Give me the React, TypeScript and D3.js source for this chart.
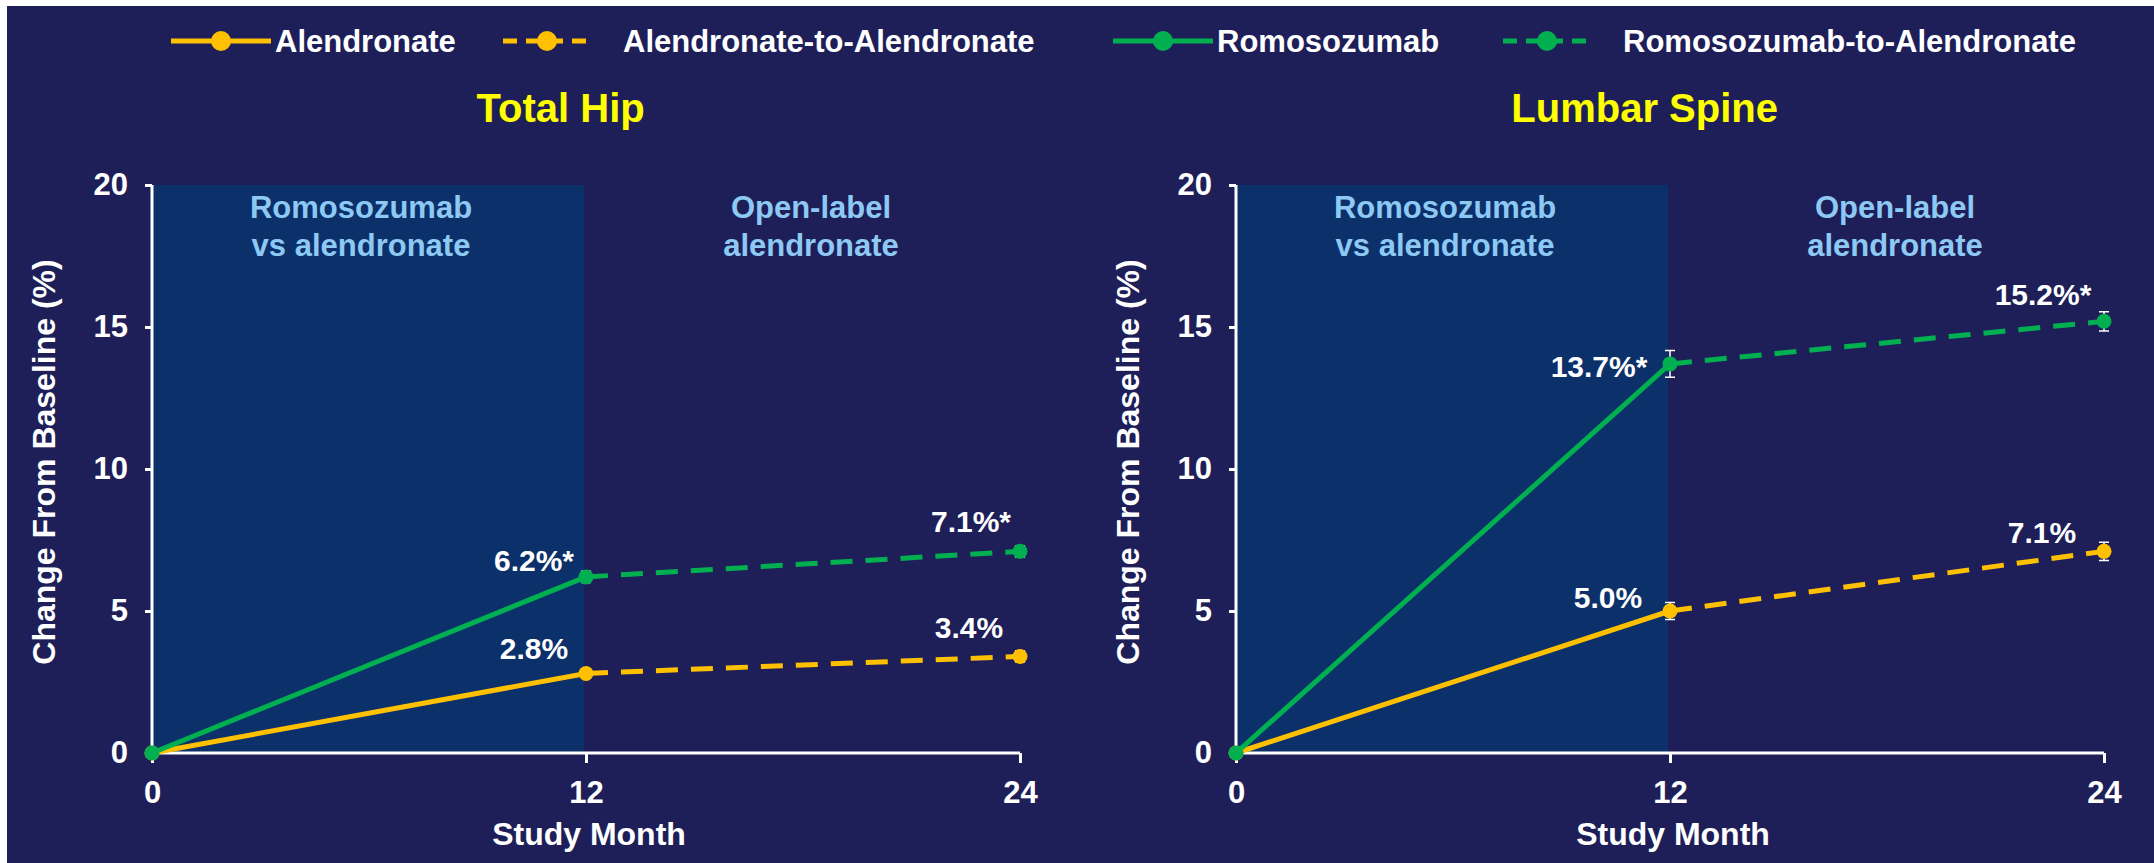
import React, { useEffect, useRef } from "react";
import * as d3 from "d3";

// study months and axis ticks
const months = [0, 12, 24];
const xTicks = [0, 12, 24];
const yTicks = [0, 5, 10, 15, 20];

const panelTitles = ["Total Hip", "Lumbar Spine"];
const legendNames = ["Alendronate", "Alendronate-to-Alendronate", "Romosozumab", "Romosozumab-to-Alendronate"];
const phaseLabels = [["Romosozumab", "vs alendronate"], ["Open-label", "alendronate"]];

// % change from baseline
const hipAlendronate = [0, 2.8, 3.4];
const hipRomosozumab = [0, 6.2, 7.1];
const spineAlendronate = [0, 5.0, 7.1];
const spineRomosozumab = [0, 13.7, 15.2];

// error bar half-widths
const hipAlendronateErr = [0, 0.15, 0.2];
const hipRomosozumabErr = [0, 0.2, 0.2];
const spineAlendronateErr = [0, 0.3, 0.32];
const spineRomosozumabErr = [0, 0.47, 0.34];

// significance flags (asterisk)
const romoSignificant = [false, true, true];
const alnSignificant = [false, false, false];

const W = 2154;
const H = 863;
const YELLOW = "#ffc000";
const GREEN = "#00b050";
const NAVY = "#1e1f58";
const SHADE = "#0b306a";
const LIGHTBLUE = "#8dc9f3";
const FONT = "'Liberation Sans', Arial, sans-serif";

export default function App() {
  const ref = useRef<SVGSVGElement>(null);

  useEffect(() => {
    const svg = d3.select(ref.current);
    svg.selectAll("*").remove();

    svg.append("rect").attr("width", W).attr("height", H).attr("fill", "#fff");
    svg.append("rect").attr("x", 7).attr("y", 6).attr("width", W - 7).attr("height", H - 6).attr("fill", NAVY);

    // Legend
    const legendX = [171, 503, 1113, 1503];
    const legendColors = [YELLOW, YELLOW, GREEN, GREEN];
    const legendDashed = [false, true, false, true];
    legendNames.forEach((name, i) => {
      const g = svg.append("g").attr("transform", `translate(${legendX[i]},41)`);
      const len = legendDashed[i] ? 88 : 100;
      g.append("line")
        .attr("x1", 0).attr("x2", len)
        .attr("stroke", legendColors[i]).attr("stroke-width", 5)
        .attr("stroke-dasharray", legendDashed[i] ? "14 9" : null);
      g.append("circle").attr("cx", len / 2).attr("r", 10).attr("fill", legendColors[i]);
      g.append("text")
        .attr("x", legendDashed[i] ? 120 : 104).attr("y", 11)
        .attr("fill", "#fff").attr("font-family", FONT).attr("font-weight", "bold")
        .attr("font-size", 31).text(name);
    });

    const panels = [
      { title: panelTitles[0], x0: 152, x1: 1020, aln: hipAlendronate, romo: hipRomosozumab,
        alnErr: hipAlendronateErr, romoErr: hipRomosozumabErr,
        alnOff: [[0, 0], [-52, -14], [-51, -18]], romoOff: [[0, 0], [-52, -6], [-49, -19]] },
      { title: panelTitles[1], x0: 1236, x1: 2104, aln: spineAlendronate, romo: spineRomosozumab,
        alnErr: spineAlendronateErr, romoErr: spineRomosozumabErr,
        alnOff: [[0, 0], [-62, -3], [-62, -8]], romoOff: [[0, 0], [-71, 13], [-61, -16]] },
    ];

    panels.forEach((p) => {
      const x = d3.scaleLinear().domain([0, 24]).range([p.x0, p.x1]);
      const y = d3.scaleLinear().domain([0, 20]).range([753, 185]);
      const g = svg.append("g");

      // shaded randomized phase
      g.append("rect")
        .attr("x", x(0)).attr("y", y(20))
        .attr("width", x(12) - x(0) - 2).attr("height", y(0) - y(20))
        .attr("fill", SHADE);

      // phase labels
      const phaseX = [(x(0) + x(12)) / 2 - 8, (x(12) + x(24)) / 2 + 8];
      phaseLabels.forEach((lines, i) => {
        lines.forEach((t, j) => {
          g.append("text")
            .attr("x", phaseX[i]).attr("y", 218 + j * 38)
            .attr("text-anchor", "middle").attr("fill", LIGHTBLUE)
            .attr("font-family", FONT).attr("font-weight", "bold").attr("font-size", 31)
            .text(t);
        });
      });

      // title
      svg.append("text")
        .attr("x", x(11.3)).attr("y", 122)
        .attr("text-anchor", "middle").attr("fill", "#ffff00")
        .attr("font-family", FONT).attr("font-weight", "bold").attr("font-size", 40)
        .text(p.title);

      // axes
      const yAxis = d3.axisLeft(y).tickValues(yTicks).tickSize(7).tickPadding(17).tickFormat(d3.format("d"));
      const xAxis = d3.axisBottom(x).tickValues(xTicks).tickSize(10).tickPadding(14).tickFormat(d3.format("d"));
      const ya = g.append("g").attr("transform", `translate(${x(0)},0)`).call(yAxis);
      const xa = g.append("g").attr("transform", `translate(0,${y(0)})`).call(xAxis);
      [ya, xa].forEach((a) => {
        a.select(".domain").attr("stroke", "#fff").attr("stroke-width", 3);
        a.selectAll(".tick line").attr("stroke", "#fff").attr("stroke-width", 3);
        a.selectAll(".tick text")
          .attr("fill", "#fff").attr("font-family", FONT).attr("font-weight", "bold").attr("font-size", 31);
      });
      ya.select(".domain").attr("d", `M0,${y(0)}V${y(20)}`);
      ya.selectAll(".tick line").attr("x2", -7);
      xa.select(".domain").attr("d", `M${x(0)},0H${x(24)}`);
      xa.selectAll(".tick text").attr("y", 50).attr("dy", 0);

      // axis titles
      g.append("text")
        .attr("transform", `translate(${x(0) - 97},462) rotate(-90)`)
        .attr("text-anchor", "middle").attr("fill", "#fff")
        .attr("font-family", FONT).attr("font-weight", "bold").attr("font-size", 32)
        .text("Change From Baseline (%)");
      g.append("text")
        .attr("x", x(12) + 3).attr("y", 845)
        .attr("text-anchor", "middle").attr("fill", "#fff")
        .attr("font-family", FONT).attr("font-weight", "bold").attr("font-size", 32)
        .text("Study Month");

      const series = [
        { vals: p.aln, err: p.alnErr, color: YELLOW, off: p.alnOff, sig: alnSignificant },
        { vals: p.romo, err: p.romoErr, color: GREEN, off: p.romoOff, sig: romoSignificant },
      ];
      const line = d3.line<[number, number]>().x((d) => x(d[0])).y((d) => y(d[1]));

      series.forEach((s) => {
        const pts: [number, number][] = months.map((m, i) => [m, s.vals[i]]);
        g.append("path").attr("d", line(pts.slice(0, 2)))
          .attr("fill", "none").attr("stroke", s.color).attr("stroke-width", 5);
        g.append("path").attr("d", line(pts.slice(1)))
          .attr("fill", "none").attr("stroke", s.color).attr("stroke-width", 5)
          .attr("stroke-dasharray", "22 13");
      });

      series.forEach((s) => {
        months.forEach((m, i) => {
          if (!s.err[i]) return;
          const cx = x(m);
          const top = y(s.vals[i] + s.err[i]);
          const bot = y(s.vals[i] - s.err[i]);
          g.append("path")
            .attr("d", `M${cx},${top}V${bot}M${cx - 5},${top}H${cx + 5}M${cx - 5},${bot}H${cx + 5}`)
            .attr("stroke", "#fff").attr("stroke-width", 1.5).attr("fill", "none");
        });
      });

      series.forEach((s) => {
        g.selectAll(null).data(months).join("circle")
          .attr("cx", (m) => x(m)).attr("cy", (m, i) => y(s.vals[i]))
          .attr("r", 7.5).attr("fill", s.color);
      });

      // value labels
      series.forEach((s) => {
        months.forEach((m, i) => {
          if (i === 0) return;
          g.append("text")
            .attr("x", x(m) + s.off[i][0]).attr("y", y(s.vals[i]) + s.off[i][1])
            .attr("text-anchor", "middle").attr("fill", "#fff")
            .attr("font-family", FONT).attr("font-weight", "bold").attr("font-size", 30)
            .text(`${s.vals[i].toFixed(1)}%${s.sig[i] ? "*" : ""}`);
        });
      });
    });
  }, []);

  return (
    <svg ref={ref} width={W} height={H} style={{ position: "absolute", left: 0, top: 0, display: "block" }} />
  );
}
